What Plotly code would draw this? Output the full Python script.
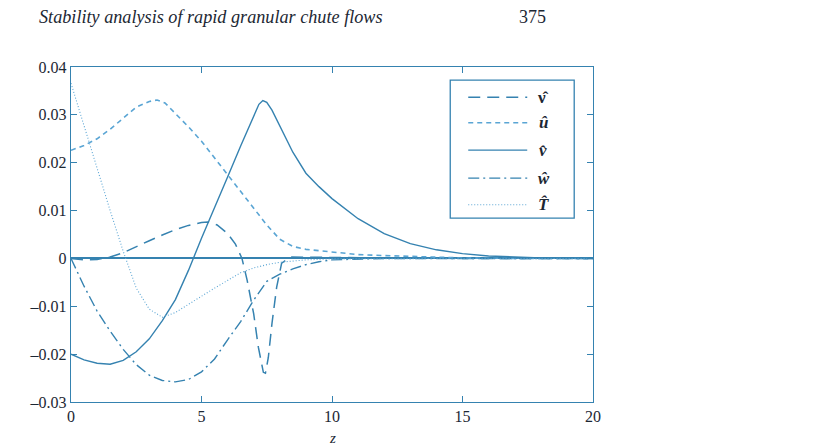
#!/usr/bin/env python3
"""
Stability analysis of rapid granular chute flows - eigenfunction profiles
Recreates the page-375 figure: perturbation amplitudes against depth z.
"""

import plotly.graph_objects as go

# --- data -------------------------------------------------------------------
Z_NU = [0, 0.5, 1, 1.5, 2, 2.5, 3, 3.5, 4, 4.5, 5, 5.25, 5.6, 6, 6.3, 6.55,
        6.75, 7, 7.18, 7.37, 7.45, 7.56, 7.7, 7.88, 8.07, 8.4, 9, 10, 12, 15, 20]
NU_HAT = [0, -0.0003, -0.0002, 0.0003, 0.0012, 0.0025, 0.0037, 0.0049, 0.0060,
          0.0069, 0.0075, 0.0076, 0.0070, 0.0052, 0.0030, 0.0, -0.0046, -0.0116,
          -0.0186, -0.0238, -0.0240, -0.0207, -0.0136, -0.0060, -0.0010, 0.0003,
          0.0003, 0.0002, 0.0001, 0.0, 0.0]

Z_U = [0, 0.5, 1, 1.5, 2, 2.5, 3, 3.3, 3.6, 4, 4.5, 5, 5.5, 6, 6.5, 7, 7.5, 8,
       8.5, 9, 10, 11, 12, 13, 15, 17, 20]
U_HAT = [0.0226, 0.0236, 0.0250, 0.0270, 0.0293, 0.0316, 0.0328, 0.0331, 0.0325,
         0.0303, 0.0275, 0.0245, 0.0210, 0.0175, 0.0140, 0.0107, 0.0070, 0.0040,
         0.0025, 0.0019, 0.0013, 0.0008, 0.0006, 0.0004, 0.0001, 0.0, 0.0]

Z_V = [0, 0.5, 1, 1.5, 2, 2.5, 3, 3.5, 4, 4.5, 5, 5.5, 6, 6.5, 7, 7.2, 7.35,
       7.5, 7.7, 8, 8.5, 9, 9.5, 10, 11, 12, 13, 14, 15, 16, 18, 20]
V_HAT = [-0.0200, -0.0212, -0.0219, -0.0221, -0.0213, -0.0195, -0.0168, -0.0130,
         -0.0086, -0.0025, 0.0042, 0.0105, 0.0170, 0.0235, 0.0300, 0.0322, 0.0330,
         0.0326, 0.0310, 0.0278, 0.0222, 0.0178, 0.0150, 0.0125, 0.0083, 0.0052,
         0.0031, 0.0018, 0.0010, 0.0005, 0.0001, 0.0]

Z_W = [0, 0.5, 1, 1.5, 2, 2.5, 3, 3.5, 4, 4.5, 5, 5.5, 6, 6.5, 7, 7.5, 8, 8.5,
       9, 9.5, 10, 11, 12, 15, 20]
W_HAT = [0, -0.0058, -0.0110, -0.0152, -0.0190, -0.0222, -0.0244, -0.0255,
         -0.0258, -0.0253, -0.0237, -0.0210, -0.0170, -0.0132, -0.0087, -0.0048,
         -0.0033, -0.0022, -0.0013, -0.0007, -0.0003, -0.0001, 0, 0, 0]

Z_T = [0, 0.5, 1, 1.5, 2, 2.5, 3, 3.5, 4, 4.5, 5, 5.5, 6, 6.5, 7, 7.5, 8, 9,
       10, 12, 15, 20]
T_HAT = [0.0366, 0.0276, 0.0188, 0.0100, 0.0015, -0.0062, -0.0106, -0.0123,
         -0.0113, -0.0096, -0.0078, -0.0062, -0.0046, -0.0030, -0.0020, -0.0013,
         -0.0008, -0.0003, -0.0001, 0, 0, 0]

SERIES_NAMES = ["\u03bd\u0302", "u\u0302", "v\u0302", "w\u0302", "T\u0302"]
LEGEND_LABELS = ["\u03bd\u0302", "<i>u\u0302</i>", "<i>v\u0302</i>",
                 "<i>w\u0302</i>", "<i>T\u0302</i>"]

X_TICKS = [0, 5, 10, 15, 20]
Y_TICKS = [0.04, 0.03, 0.02, 0.01, 0, -0.01, -0.02, -0.03]
Y_TICK_TEXT = ["0.04", "0.03", "0.02", "0.01", "0",
               "\u20130.01", "\u20130.02", "\u20130.03"]

LINE_DARK = "#3582b0"
LINE_LIGHT = "#5aa5d4"
TEXT_COLOR = "#1c2733"
SERIF = "Liberation Serif, Times New Roman, serif"


def build_figure() -> go.Figure:
    """Five eigenfunction profiles with a MATLAB-like boxed axes."""
    styles = [
        dict(color=LINE_DARK, width=1.5, dash="12px,7px"),
        dict(color=LINE_LIGHT, width=1.6, dash="5px,4px"),
        dict(color=LINE_DARK, width=1.4, dash="solid"),
        dict(color=LINE_DARK, width=1.4, dash="11px,4px,2px,4px"),
        dict(color=LINE_LIGHT, width=1.1, dash="1px,2px"),
    ]
    series = [(Z_NU, NU_HAT), (Z_U, U_HAT), (Z_V, V_HAT), (Z_W, W_HAT), (Z_T, T_HAT)]

    fig = go.Figure()
    for (z, vals), name, st in zip(series, SERIES_NAMES, styles):
        fig.add_trace(go.Scatter(x=z, y=vals, mode="lines", name=name,
                                 line=st, showlegend=False))

    # hand-drawn legend box, MATLAB style (long line samples)
    legend_x0, legend_x1 = 0.7265, 0.964
    legend_y0, legend_y1 = 0.549, 0.961
    fig.add_shape(type="rect", xref="paper", yref="paper",
                  x0=legend_x0, x1=legend_x1, y0=legend_y0, y1=legend_y1,
                  line=dict(color=LINE_DARK, width=1.3), fillcolor="white")
    entry_y = [0.9095, 0.8336, 0.752, 0.6684, 0.589]
    for ey, label, st in zip(entry_y, LEGEND_LABELS, styles):
        fig.add_shape(type="line", xref="paper", yref="paper",
                      x0=0.761, x1=0.874, y0=ey, y1=ey, line=st)
        fig.add_annotation(text=f"<b>{label}</b>", xref="paper", yref="paper",
                           x=0.905, y=ey, showarrow=False,
                           xanchor="center", yanchor="middle",
                           font=dict(family=SERIF, size=17, color=TEXT_COLOR))

    # running head of the journal page
    fig.add_annotation(text="<i>Stability analysis of rapid granular chute flows</i>",
                       xref="paper", yref="paper", x=0.268, y=1.15,
                       xanchor="center", yanchor="middle", showarrow=False,
                       font=dict(family=SERIF, size=18.2, color=TEXT_COLOR))
    fig.add_annotation(text="375", xref="paper", yref="paper", x=0.884, y=1.15,
                       xanchor="center", yanchor="middle", showarrow=False,
                       font=dict(family=SERIF, size=18, color=TEXT_COLOR))
    fig.add_annotation(text="<i>z</i>", xref="paper", yref="paper", x=0.5, y=-0.1383,
                       xanchor="center", yanchor="bottom", showarrow=False,
                       font=dict(family=SERIF, size=15, color=TEXT_COLOR))

    axis_common = dict(
        showline=True, linecolor=LINE_DARK, linewidth=1.4, mirror="ticks",
        ticks="inside", ticklen=6, tickwidth=1, tickcolor=LINE_DARK,
        showgrid=False,
        tickfont=dict(family=SERIF, size=16, color=TEXT_COLOR),
    )

    fig.update_layout(
        width=815, height=448,
        margin=dict(l=71, r=222, t=67, b=46),
        paper_bgcolor="white", plot_bgcolor="white",
        showlegend=False,
        xaxis=dict(range=[0, 20], tickvals=X_TICKS, zeroline=False, **axis_common),
        yaxis=dict(range=[-0.03, 0.04], tickvals=Y_TICKS, ticktext=Y_TICK_TEXT,
                   zeroline=True, zerolinecolor=LINE_DARK, zerolinewidth=1.8,
                   **axis_common),
    )
    return fig


def main():
    fig = build_figure()
    # drop the default 8px page margin so the figure fills the window exactly
    fig.write_html("out.html", config={"displayModeBar": False},
                   post_script="document.body.style.margin = '0';")
    return fig


if __name__ == "__main__":
    main()
